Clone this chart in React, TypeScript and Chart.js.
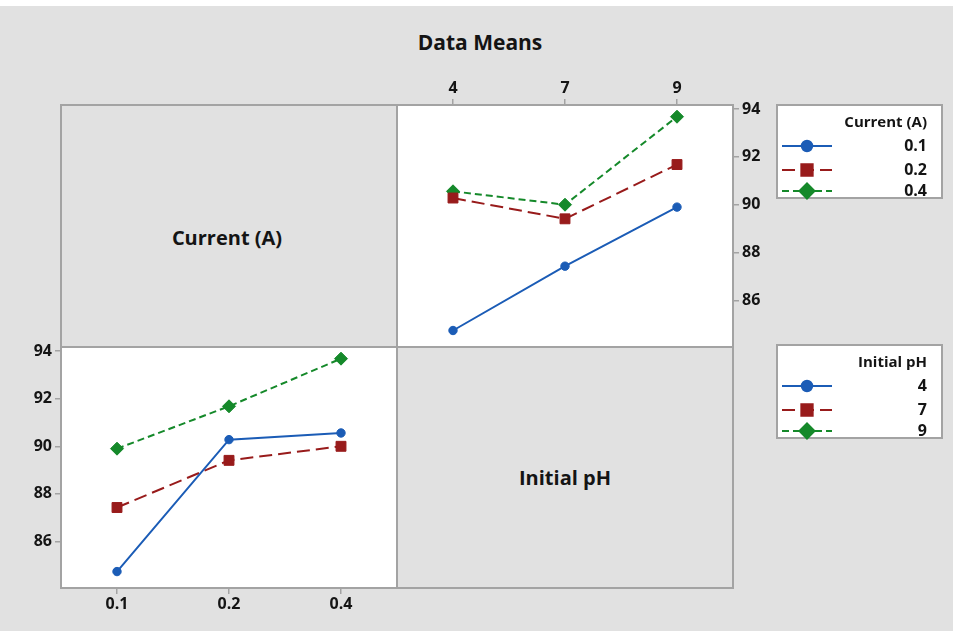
import React, { useEffect, useRef } from 'react';
import { Chart, registerables } from 'chart.js';
import { drawPoint } from 'chart.js/helpers';

Chart.register(...registerables);

// Factor levels
const phLevels = ['4', '7', '9'];
const currentLevels = ['0.1', '0.2', '0.4'];

// Mean removal (%) by current, across initial pH 4, 7, 9
const meanCurrent01 = [84.74, 87.43, 89.9];
const meanCurrent02 = [90.28, 89.41, 91.68];
const meanCurrent04 = [90.56, 90.0, 93.68];

// Mean removal (%) by initial pH, across current 0.1, 0.2, 0.4
const meanPH4 = [84.74, 90.28, 90.56];
const meanPH7 = [87.43, 89.41, 90.0];
const meanPH9 = [89.9, 91.68, 93.68];

const yTicks = [86, 88, 90, 92, 94];
const yMin = 84.05;
const yMax = 94.17;

const FONT = '"Open Sans", "Noto Sans", sans-serif';
const FRAME = '#a3a3a3';
const BG = '#e1e1e1';
const TEXT = '#141414';

const seriesStyles = [
  { color: '#1b5cb6', dash: [] as number[], pointStyle: 'circle', radius: 4.2 },
  { color: '#981b1b', dash: [13, 6], pointStyle: 'rect', radius: 7 },
  { color: '#15892a', dash: [7, 4], pointStyle: 'rectRot', radius: 6.5 },
];

const sideLegend = {
  id: 'sideLegend',
  afterDraw(chart: any, _args: any, opts: any) {
    const { ctx } = chart;
    const { x, y, w, h, title } = opts;
    ctx.save();
    ctx.fillStyle = '#ffffff';
    ctx.fillRect(x, y, w, h);
    ctx.strokeStyle = FRAME;
    ctx.lineWidth = 2;
    ctx.setLineDash([]);
    ctx.strokeRect(x, y, w, h);

    ctx.fillStyle = TEXT;
    ctx.textAlign = 'right';
    ctx.textBaseline = 'middle';
    ctx.font = `bold 15px ${FONT}`;
    ctx.fillText(title, x + w - 15, y + 18);

    const rowY = [41, 65, 86];
    chart.data.datasets.forEach((ds: any, i: number) => {
      const ry = y + rowY[i];
      ctx.strokeStyle = ds.borderColor;
      ctx.lineWidth = 2;
      ctx.setLineDash(ds.borderDash || []);
      ctx.beginPath();
      ctx.moveTo(x + 5, ry);
      ctx.lineTo(x + 55, ry);
      ctx.stroke();
      ctx.setLineDash([]);
      ctx.fillStyle = ds.pointBackgroundColor;
      ctx.strokeStyle = ds.pointBorderColor;
      drawPoint(ctx, { pointStyle: ds.pointStyle, radius: ds.pointRadius + 1, borderWidth: 1, rotation: 0 } as any, x + 30, ry);
      ctx.fillStyle = TEXT;
      ctx.font = `bold 16px ${FONT}`;
      ctx.fillText(ds.label, x + w - 15, ry);
    });
    ctx.restore();
  },
};

type PanelSpec = {
  labels: string[];
  series: number[][];
  names: string[];
  legendTitle: string;
  xPos: 'top' | 'bottom';
  yPos: 'left' | 'right';
  padding: { left: number; top: number; right: number; bottom: number };
  legendBox: { x: number; y: number; w: number; h: number };
};

function buildConfig(p: PanelSpec): any {
  const tickFont = { family: FONT, size: 16, weight: 'bold' };
  const grid = {
    drawOnChartArea: false,
    drawTicks: true,
    tickLength: 6,
    color: FRAME,
    lineWidth: 1.5,
    offset: false,
  };
  return {
    type: 'line',
    data: {
      labels: p.labels,
      datasets: p.series.map((values, i) => {
        const s = seriesStyles[i];
        return {
          label: p.names[i],
          data: values,
          borderColor: s.color,
          backgroundColor: s.color,
          borderWidth: 2,
          borderDash: s.dash,
          pointStyle: s.pointStyle,
          pointRadius: s.radius,
          pointBackgroundColor: s.color,
          pointBorderColor: s.color,
          pointBorderWidth: 1,
          tension: 0,
          fill: false,
        };
      }),
    },
    options: {
      responsive: false,
      animation: false,
      devicePixelRatio: 1,
      layout: { padding: p.padding },
      scales: {
        x: {
          type: 'category',
          offset: true,
          position: p.xPos,
          grid,
          border: { display: false },
          ticks: { font: tickFont, color: TEXT, padding: 1, maxRotation: 0 },
          afterFit(s: any) {
            s.height = 30;
          },
        },
        y: {
          type: 'linear',
          position: p.yPos,
          min: yMin,
          max: yMax,
          afterBuildTicks(s: any) {
            s.ticks = yTicks.map((v) => ({ value: v }));
          },
          grid,
          border: { display: false },
          ticks: { font: tickFont, color: TEXT, padding: 3 },
          afterFit(s: any) {
            s.width = 40;
          },
        },
      },
      plugins: {
        legend: { display: false },
        tooltip: { enabled: false },
        title: { display: false },
        sideLegend: { ...p.legendBox, title: p.legendTitle },
      },
    },
    plugins: [sideLegend],
  };
}

function Panel({ spec }: { spec: PanelSpec }) {
  const ref = useRef<HTMLCanvasElement>(null);
  useEffect(() => {
    if (!ref.current) return;
    const chart = new Chart(ref.current, buildConfig(spec));
    return () => chart.destroy();
  }, [spec]);
  return (
    <canvas
      ref={ref}
      width={953}
      height={631}
      style={{ position: 'absolute', left: 0, top: 0, width: 953, height: 631 }}
    />
  );
}

const byPH: PanelSpec = {
  labels: phLevels,
  series: [meanCurrent01, meanCurrent02, meanCurrent04],
  names: currentLevels,
  legendTitle: 'Current (A)',
  xPos: 'top',
  yPos: 'right',
  padding: { left: 397, top: 75, right: 180, bottom: 284 },
  legendBox: { x: 777, y: 105, w: 165, h: 93 },
};

const byCurrent: PanelSpec = {
  labels: currentLevels,
  series: [meanPH4, meanPH7, meanPH9],
  names: phLevels,
  legendTitle: 'Initial pH',
  xPos: 'bottom',
  yPos: 'left',
  padding: { left: 21, top: 347, right: 556, bottom: 13 },
  legendBox: { x: 777, y: 345, w: 165, h: 93 },
};

const centered = (x: number, y: number, size: number): React.CSSProperties => ({
  position: 'absolute',
  left: x,
  top: y,
  transform: 'translate(-50%, -50%)',
  fontFamily: FONT,
  fontWeight: 700,
  fontSize: size,
  color: TEXT,
  whiteSpace: 'nowrap',
  lineHeight: 1,
});

export default function App() {
  return (
    <div style={{ position: 'absolute', left: 0, top: 0, width: 953, height: 631, background: '#fff', overflow: 'hidden' }}>
      <div style={{ position: 'absolute', left: 0, top: 6, width: 953, height: 625, background: BG }} />
      <div style={centered(480, 42, 21)}>Data Means</div>

      {/* matrix cells */}
      <div style={{ position: 'absolute', left: 397, top: 105, width: 336, height: 242, background: '#fff' }} />
      <div style={{ position: 'absolute', left: 61, top: 347, width: 336, height: 241, background: '#fff' }} />
      <div
        style={{
          position: 'absolute',
          left: 60,
          top: 104,
          width: 674,
          height: 485,
          border: `2px solid ${FRAME}`,
          boxSizing: 'border-box',
        }}
      />
      <div style={{ position: 'absolute', left: 396, top: 104, width: 2, height: 485, background: FRAME }} />
      <div style={{ position: 'absolute', left: 60, top: 346, width: 674, height: 2, background: FRAME }} />

      <div style={centered(227, 238, 20)}>Current (A)</div>
      <div style={centered(565, 478, 20)}>Initial pH</div>

      <Panel spec={byPH} />
      <Panel spec={byCurrent} />
    </div>
  );
}
